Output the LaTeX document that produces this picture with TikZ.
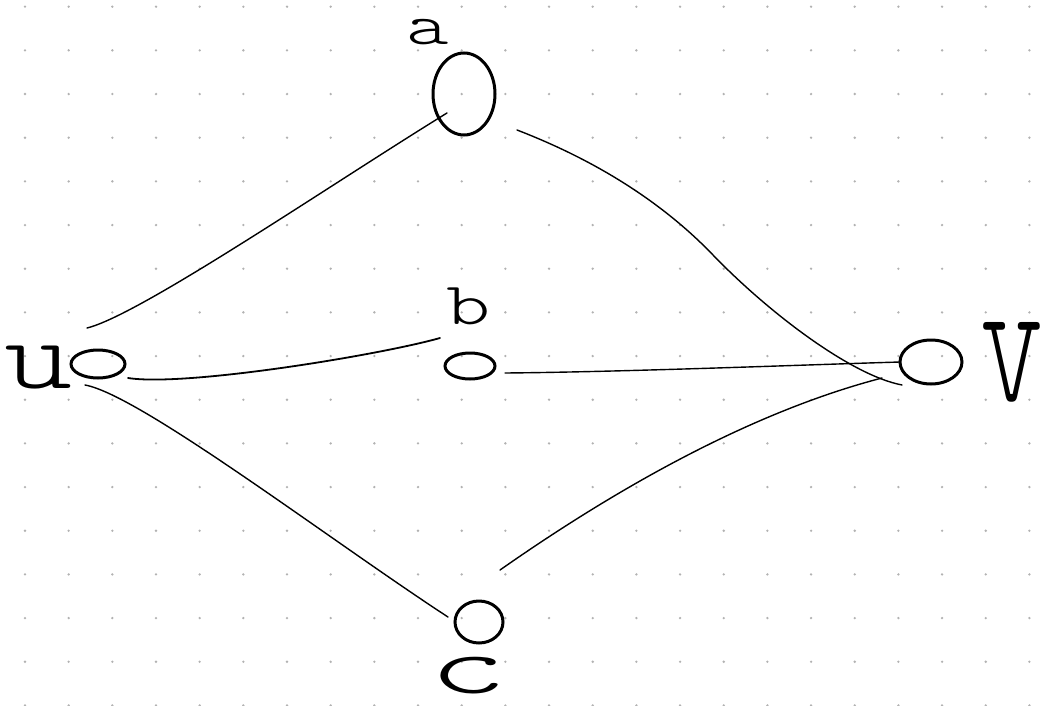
\documentclass[tikz,border=0pt]{standalone}
\usepackage{fontspec}
\usetikzlibrary{shapes.geometric,calc}
\newfontfamily\hand{lmmonolt10-regular}[Extension=.otf]
\definecolor{dotgray}{RGB}{178,178,178}
\begin{document}
\begin{tikzpicture}[x=1pt,y=-1pt,
  vtx/.style={draw=black,ellipse,line width=3pt,inner sep=0pt},
  lbl/.style={inner sep=0pt,anchor=center,text=black},
  edge/.style={draw=black,line width=1.4pt,line cap=round}]
\useasboundingbox (0,0) rectangle (1049,706);
\fill[white] (0,0) rectangle (1049,706);
% dot grid
\foreach \i in {0,...,23}{
  \foreach \j in {0,...,16}{
    \fill[dotgray] ({25+43.67*\i},{6.7+43.67*\j}) circle (1.3pt);
  }
}
% vertices
\node[vtx,minimum width=54pt,minimum height=28pt] (u) at (98,364) {};
\node[vtx,minimum width=62pt,minimum height=82pt] (a) at (464,94) {};
\node[vtx,minimum width=50pt,minimum height=26pt] (b) at (470,366) {};
\node[vtx,minimum width=48pt,minimum height=42pt] (c) at (479,622) {};
\node[vtx,minimum width=62pt,minimum height=44pt] (v) at (931,362) {};
% labels
\node[lbl,font=\hand\fontsize{100}{100}\selectfont,xscale=1.3] (ul) at (39,368) {u};
\node[lbl,font=\hand\fontsize{58}{58}\selectfont,xscale=1.4] (al) at (428,32) {a};
\node[lbl,font=\hand\fontsize{60}{60}\selectfont,xscale=1.4] (bl) at (469,306) {b};
\node[lbl,font=\hand\fontsize{76}{76}\selectfont,xscale=1.95,yscale=1.1] (cl) at (468,676) {c};
\node[lbl,font=\hand\fontsize{120}{120}\selectfont,yscale=1.55] (vl) at (1012,362) {v};
% edges
\draw[edge] ($(u)+(-11,-36)$) .. controls (140,315) and (330,185) .. ($(a)+(-17,19)$);
\draw[edge] ($(a)+(53,36)$) .. controls (600,162) and (665,205) .. (713,255)
                           .. controls (767,311) and (850,375) .. ($(v)+(-29,23)$);
\draw[edge,line width=1.8pt] ($(u)+(30,14)$) .. controls (185,387) and (380,355) .. ($(b)+(-30,-28)$);
\draw[edge] ($(b)+(35,7)$) .. controls (620,372) and (800,365) .. ($(v)+(-31,0)$);
\draw[edge] ($(u)+(-13,21)$) .. controls (140,395) and (330,540) .. ($(c)+(-31,-5)$);
\draw[edge] ($(c)+(21,-52)$) .. controls (600,500) and (740,415) .. ($(v)+(-49,16)$);
\end{tikzpicture}
\end{document}
